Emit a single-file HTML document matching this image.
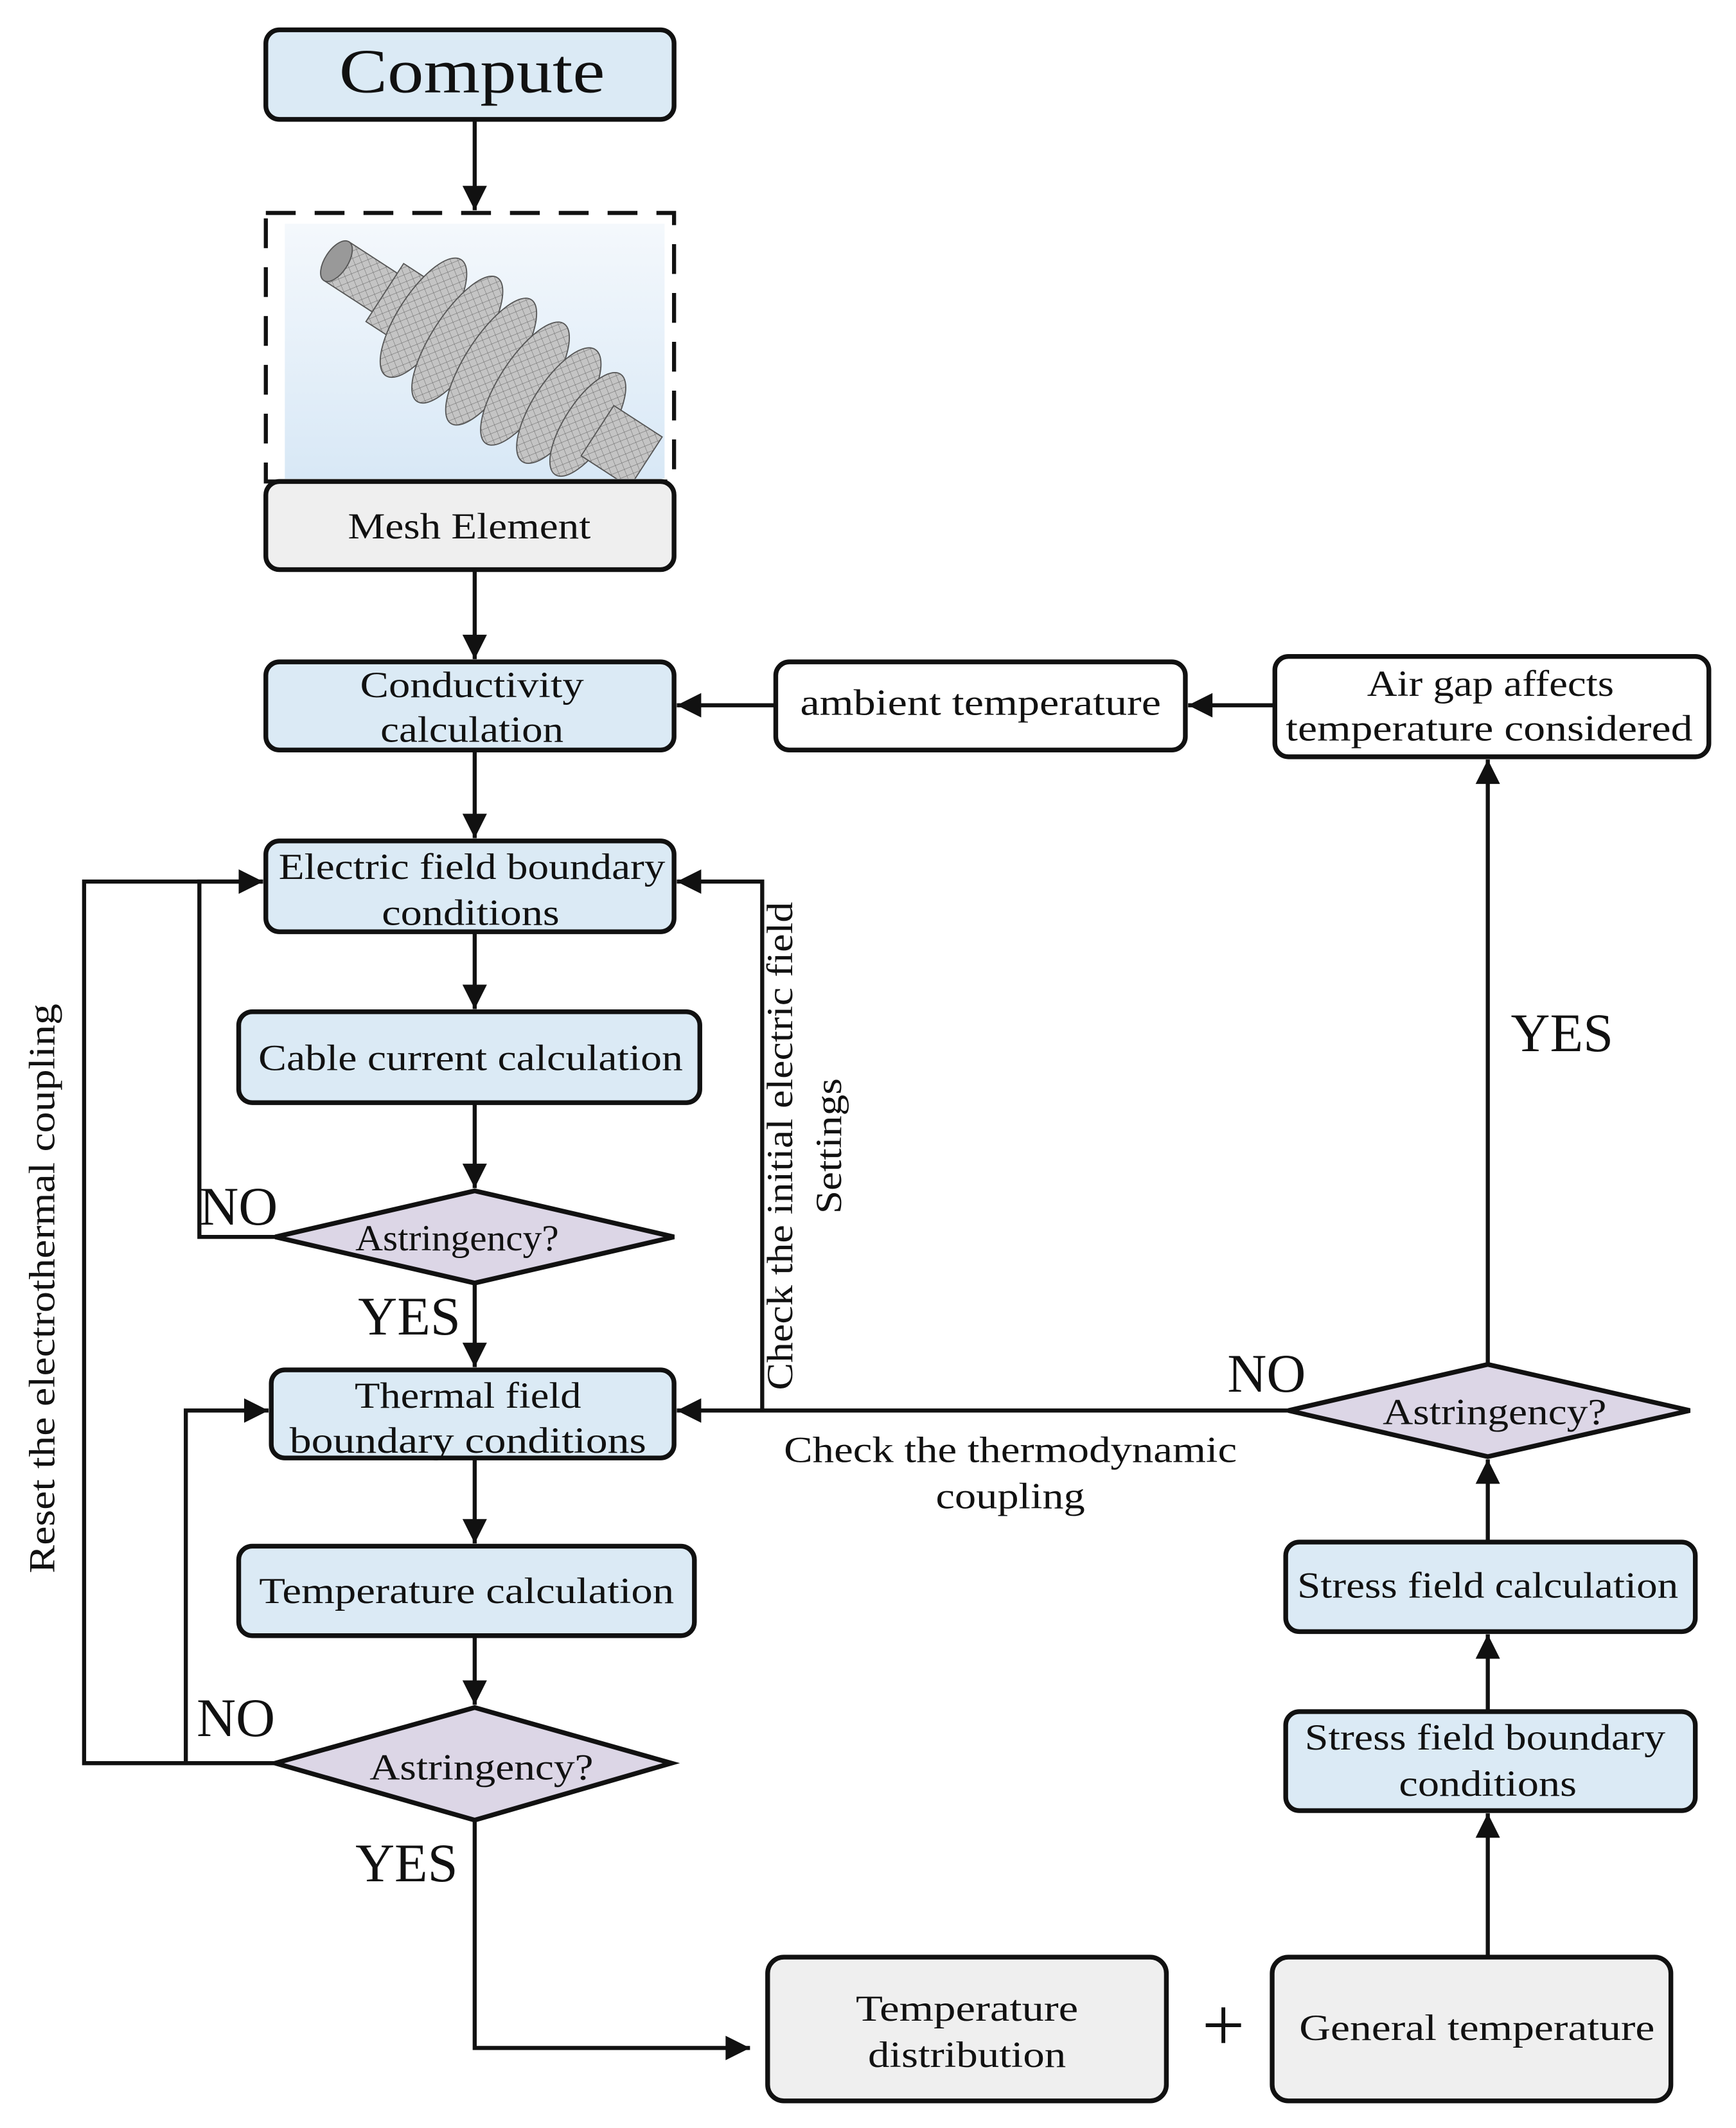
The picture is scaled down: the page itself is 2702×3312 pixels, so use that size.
<!DOCTYPE html>
<html><head><meta charset="utf-8"><style>
html,body{margin:0;padding:0;background:#fff}
svg{display:block}
text{font-family:"Liberation Serif",serif;fill:#111}
</style></head><body>
<svg width="2702" height="3312" viewBox="0 0 1280 1569" xmlns="http://www.w3.org/2000/svg">
<defs>
<marker id="b" viewBox="0 0 10 10" refX="10" refY="5" markerWidth="22" markerHeight="18" markerUnits="userSpaceOnUse" orient="auto"><path d="M0,0 L10,5 L0,10 z" fill="#111"/></marker>
<linearGradient id="bg" x1="0" y1="0" x2="0" y2="1"><stop offset="0" stop-color="#f4f8fc"/><stop offset="1" stop-color="#d8e8f6"/></linearGradient>
<pattern id="mesh" width="6" height="6" patternUnits="userSpaceOnUse" patternTransform="rotate(35)"><rect width="6" height="6" fill="#c4c4c4"/><path d="M0 0H6M0 0V6" stroke="#666" stroke-width="0.6"/></pattern>
<clipPath id="cp"><rect x="210" y="165" width="280" height="188"/></clipPath>
</defs>
<g stroke="#111" stroke-width="3.5" fill="none">
<rect x="196" y="22" width="301" height="66" rx="10" fill="#dbeaf5"/>
<rect x="210" y="165" width="280" height="188" fill="url(#bg)" stroke="none"/>
<rect x="196" y="157" width="301" height="198" stroke-dasharray="22,14" stroke-width="3"/>
<rect x="196" y="355" width="301" height="65" rx="10" fill="#efefef"/>
<rect x="196" y="488" width="301" height="65" rx="10" fill="#dbeaf5"/>
<rect x="572" y="488" width="302" height="65" rx="10" fill="#fff"/>
<rect x="940" y="484" width="320" height="74" rx="10" fill="#fff"/>
<rect x="196" y="620" width="301" height="67" rx="10" fill="#dbeaf5"/>
<rect x="176" y="746" width="340" height="67" rx="10" fill="#dbeaf5"/>
<rect x="200" y="1010" width="297" height="65" rx="10" fill="#dbeaf5"/>
<rect x="176" y="1140" width="336" height="66" rx="10" fill="#dbeaf5"/>
<rect x="566" y="1443" width="294" height="106" rx="12" fill="#efefef"/>
<rect x="938" y="1443" width="294" height="106" rx="12" fill="#efefef"/>
<rect x="948" y="1262" width="302" height="73" rx="10" fill="#dbeaf5"/>
<rect x="948" y="1137" width="302" height="66" rx="10" fill="#dbeaf5"/>
<polygon points="203,912 350,878 497,912 350,946" fill="#dcd6e6"/>
<polygon points="203,1300 350,1259 495,1300 350,1342" fill="#dcd6e6"/>
<polygon points="950,1040 1097,1006 1246,1040 1097,1074" fill="#dcd6e6"/>
</g>
<g clip-path="url(#cp)" stroke="#555" stroke-width="1" fill="url(#mesh)">
<g transform="translate(355,262) rotate(33) scale(0.85)">
<rect x="-150" y="-20" width="60" height="40"/>
<rect x="-100" y="-30" width="50" height="60"/>
<ellipse cx="-60" cy="0" rx="22" ry="60"/>
<ellipse cx="-25" cy="0" rx="22" ry="64"/>
<ellipse cx="10" cy="0" rx="22" ry="64"/>
<ellipse cx="45" cy="0" rx="22" ry="62"/>
<ellipse cx="80" cy="0" rx="22" ry="58"/>
<ellipse cx="110" cy="0" rx="20" ry="52"/>
<rect x="120" y="-26" width="50" height="52"/>
<ellipse cx="-150" cy="0" rx="10" ry="20" fill="#999"/>
</g>
</g>
<g stroke="#111" stroke-width="3" fill="none" marker-end="url(#b)">
<path d="M350 88V155"/>
<path d="M350 420V486"/>
<path d="M350 553V618"/>
<path d="M572 520H499"/>
<path d="M940 520H876"/>
<path d="M350 687V744"/>
<path d="M350 813V876"/>
<path d="M350 946V1008"/>
<path d="M350 1075V1138"/>
<path d="M350 1206V1257"/>
<path d="M203 912H147V650H194"/>
<path d="M203 1300H62V650H194"/>
<path d="M137 1300V1040H198"/>
<path d="M950 1040H499"/>
<path d="M562 1040V650H499"/>
<path d="M350 1342V1510H553"/>
<path d="M1097 1443V1337"/>
<path d="M1097 1262V1205"/>
<path d="M1097 1137V1076"/>
<path d="M1097 1006V560"/>
</g>
<g text-anchor="middle" font-size="27" lengthAdjust="spacingAndGlyphs">
<text x="348" y="68" font-size="46" textLength="196" lengthAdjust="spacingAndGlyphs">Compute</text>
<text x="346" y="397" textLength="179" lengthAdjust="spacingAndGlyphs">Mesh Element</text>
<text x="348" y="514" textLength="165" lengthAdjust="spacingAndGlyphs">Conductivity</text>
<text x="348" y="547" textLength="135" lengthAdjust="spacingAndGlyphs">calculation</text>
<text x="723" y="527" textLength="266" lengthAdjust="spacingAndGlyphs">ambient temperature</text>
<text x="1099" y="513" textLength="182" lengthAdjust="spacingAndGlyphs">Air gap affects</text>
<text x="1098" y="546" textLength="300" lengthAdjust="spacingAndGlyphs">temperature considered</text>
<text x="348" y="648" textLength="285" lengthAdjust="spacingAndGlyphs">Electric field boundary</text>
<text x="347" y="682" textLength="131" lengthAdjust="spacingAndGlyphs">conditions</text>
<text x="347" y="789" textLength="313" lengthAdjust="spacingAndGlyphs">Cable current calculation</text>
<text x="337" y="922" textLength="150" lengthAdjust="spacingAndGlyphs">Astringency?</text>
<text x="345" y="1038" textLength="167" lengthAdjust="spacingAndGlyphs">Thermal field</text>
<text x="345" y="1071" textLength="263" lengthAdjust="spacingAndGlyphs">boundary conditions</text>
<text x="344" y="1182" textLength="306" lengthAdjust="spacingAndGlyphs">Temperature calculation</text>
<text x="355" y="1312" textLength="165" lengthAdjust="spacingAndGlyphs">Astringency?</text>
<text x="1102" y="1050" textLength="165" lengthAdjust="spacingAndGlyphs">Astringency?</text>
<text x="1097" y="1178" textLength="281" lengthAdjust="spacingAndGlyphs">Stress field calculation</text>
<text x="1095" y="1290" textLength="266" lengthAdjust="spacingAndGlyphs">Stress field boundary</text>
<text x="1097" y="1324" textLength="131" lengthAdjust="spacingAndGlyphs">conditions</text>
<text x="713" y="1490" textLength="164" lengthAdjust="spacingAndGlyphs">Temperature</text>
<text x="713" y="1524" textLength="146" lengthAdjust="spacingAndGlyphs">distribution</text>
<text x="1089" y="1504" textLength="262" lengthAdjust="spacingAndGlyphs">General temperature</text>
<text x="745" y="1078" textLength="334" lengthAdjust="spacingAndGlyphs">Check the thermodynamic</text>
<text x="745" y="1112" textLength="110" lengthAdjust="spacingAndGlyphs">coupling</text>
<text x="902" y="1512" font-size="56">+</text>
</g>
<g font-size="40">
<text x="147" y="903">NO</text>
<text x="264" y="984">YES</text>
<text x="145" y="1280">NO</text>
<text x="262" y="1387">YES</text>
<text x="905" y="1026">NO</text>
<text x="1114" y="775">YES</text>
</g>
<g font-size="27" text-anchor="middle">
<text transform="translate(40,950) rotate(-90)" textLength="420" lengthAdjust="spacingAndGlyphs">Reset the electrothermal coupling</text>
<text transform="translate(584,845) rotate(-90)" textLength="360" lengthAdjust="spacingAndGlyphs">Check the initial electric field</text>
<text transform="translate(620,845) rotate(-90)" textLength="100" lengthAdjust="spacingAndGlyphs">Settings</text>
</g>
</svg>
</body></html>
